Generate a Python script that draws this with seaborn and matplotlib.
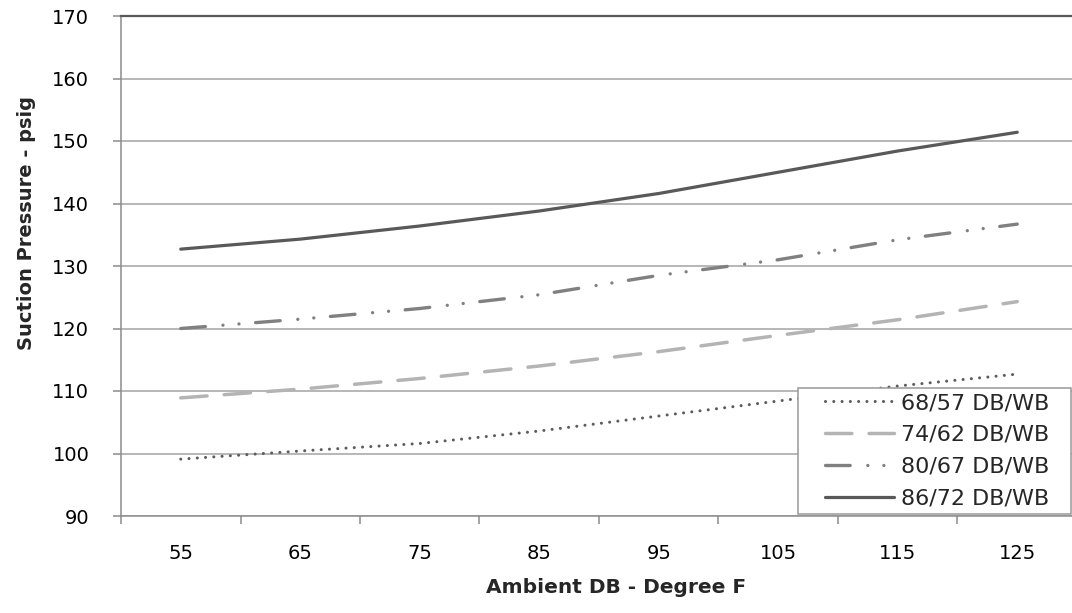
import numpy as np
import pandas as pd
import matplotlib
matplotlib.use("Agg")
import matplotlib.pyplot as plt
import matplotlib.colors as mcolors
from matplotlib.legend_handler import HandlerLine2D
from matplotlib.lines import Line2D
import seaborn as sns

# ---- data ----
ambient = ["55", "65", "75", "85", "95", "105", "115", "125"]
s_68_57 = [99.1, 100.4, 101.6, 103.6, 106.0, 108.4, 110.8, 112.7]
s_74_62 = [108.9, 110.3, 112.0, 114.0, 116.3, 118.9, 121.4, 124.3]
s_80_67 = [120.0, 121.5, 123.2, 125.4, 128.5, 131.0, 134.2, 136.7]
s_86_72 = [132.7, 134.3, 136.4, 138.8, 141.6, 145.0, 148.4, 151.4]
series_names = ["68/57 DB/WB", "74/62 DB/WB", "80/67 DB/WB", "86/72 DB/WB"]
y_ticks = [90, 100, 110, 120, 130, 140, 150, 160, 170]

df = pd.DataFrame({
    "Ambient": ambient * 4,
    "Pressure": s_68_57 + s_74_62 + s_80_67 + s_86_72,
    "Series": np.repeat(series_names, len(ambient)),
})

colors = {
    "68/57 DB/WB": "#5c5c5c",
    "74/62 DB/WB": "#b4b4b4",
    "80/67 DB/WB": "#808080",
    "86/72 DB/WB": "#595959",
}
dash_map = {
    "68/57 DB/WB": (0.01, 2.7),
    "74/62 DB/WB": (7.6, 4.95),
    "80/67 DB/WB": (7.4, 5.3, 0.01, 4.8, 0.01, 5.0),
    "86/72 DB/WB": "",
}
line_widths = {
    "68/57 DB/WB": 2.2,
    "74/62 DB/WB": 2.5,
    "80/67 DB/WB": 2.4,
    "86/72 DB/WB": 2.3,
}

sns.set_style("white")
plt.rcParams["font.family"] = ["DejaVu Sans"]

fig = plt.figure(figsize=(10.72, 6.13), dpi=100)
ax = fig.add_axes([121 / 1072, 97 / 613, 956 / 1072, 500 / 613])

sns.lineplot(
    data=df, x="Ambient", y="Pressure", hue="Series", style="Series",
    hue_order=series_names, style_order=series_names,
    palette=colors, dashes=dash_map, linewidth=2.3, legend=False,
    sort=False, estimator=None, ax=ax,
    dash_capstyle="round", solid_capstyle="round",
)

# legend handles = the drawn lines, matched by colour
handles = []
for name in series_names:
    for ln in ax.get_lines():
        if mcolors.to_hex(ln.get_color()) == mcolors.to_hex(colors[name]):
            ln.set_linewidth(line_widths[name])
            ln.set_dash_capstyle("round")
            ln.set_solid_capstyle("round")
            handles.append(ln)
            break

ax.set_xlim(-0.5, len(ambient) - 0.5)
ax.set_ylim(90, 170)
ax.set_yticks(y_ticks)
ax.set_xticks(range(len(ambient)))
ax.set_xticklabels(ambient)
ax.set_xticks(np.arange(-0.5, len(ambient), 1.0), minor=True)

grid_col = "#a3a3a3"
axis_col = "#8c8c8c"
ax.grid(axis="y", color=grid_col, linewidth=1.1)
ax.grid(axis="x", visible=False)
ax.set_axisbelow(True)

ax.tick_params(axis="x", which="major", bottom=True, length=0, pad=20,
               labelsize=14, labelcolor="black")
ax.tick_params(axis="x", which="minor", bottom=True, length=5.8, width=1.1,
               color=axis_col, direction="out")
ax.tick_params(axis="y", which="major", left=True, length=5.8, width=1.1,
               color=axis_col, direction="out", pad=17, labelsize=14,
               labelcolor="black")

for side in ["left", "bottom"]:
    ax.spines[side].set_color(axis_col)
    ax.spines[side].set_linewidth(1.1)
ax.spines["top"].set_color("#595959")
ax.spines["top"].set_linewidth(1.6)
ax.spines["right"].set_visible(False)

ax.set_xlabel("Ambient DB - Degree F", fontsize=14.5, fontweight="bold")
ax.set_ylabel("Suction Pressure - psig", fontsize=14, fontweight="bold")
ax.xaxis.set_label_coords((616 - 121) / 956, -0.124)
ax.yaxis.set_label_coords((36 - 121) / 956, 0.586)


class InsetLine(HandlerLine2D):
    def __init__(self, left, **kw):
        super().__init__(**kw)
        self.left = left

    def get_xdata(self, legend, xdescent, ydescent, width, height, fontsize):
        x = np.array([-xdescent + self.left * fontsize, -xdescent + width])
        return x, x


leg = ax.legend(
    handles, series_names,
    loc="lower left", mode="expand",
    bbox_to_anchor=(797.7 / 1072, 99 / 613, (1071 - 797.7) / 1072, 129 / 613),
    bbox_transform=fig.transFigure, borderaxespad=0,
    fontsize=16, borderpad=0.25, labelspacing=0.53,
    handlelength=4.07, handletextpad=0.32,
    handler_map={Line2D: InsetLine(0.96)},
    frameon=True, fancybox=False, framealpha=1, edgecolor="#999999",
    facecolor="white",
)
leg.get_frame().set_linewidth(1.1)

fig.savefig("out.png", dpi=100)
